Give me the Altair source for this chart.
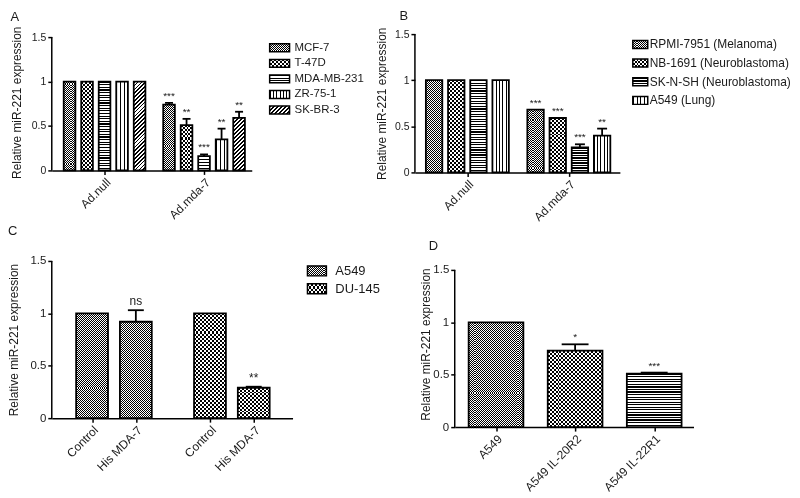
import json
import altair as alt
import pandas as pd

FONT = "Liberation Sans"
INK = "#1a1a1a"

# ---------------- data ----------------
A_groups = ["Ad.null", "Ad.mda-7"]
A_series = ["MCF-7", "T-47D", "MDA-MB-231", "ZR-75-1", "SK-BR-3"]
A_null = [1.0, 1.0, 1.0, 1.0, 1.0]
A_mda = [0.74, 0.51, 0.16, 0.35, 0.59]
A_mda_err = [0.02, 0.07, 0.02, 0.12, 0.07]
A_stars = ["***", "**", "***", "**", "**"]

B_groups = ["Ad.null", "Ad.mda-7"]
B_series = ["RPMI-7951 (Melanoma)", "NB-1691 (Neuroblastoma)",
            "SK-N-SH (Neuroblastoma)", "A549 (Lung)"]
B_null = [1.0, 1.0, 1.0, 1.0]
B_mda = [0.68, 0.59, 0.27, 0.40]
B_mda_err = [0.0, 0.0, 0.035, 0.075]
B_stars = ["***", "***", "***", "**"]

C_cells = ["A549", "DU-145"]
C_treat = ["Control", "His MDA-7"]
C_a549 = [1.0, 0.92]
C_a549_err = [0.0, 0.11]
C_a549_marks = ["", "ns"]
C_du145 = [1.0, 0.29]
C_du145_err = [0.0, 0.01]
C_du145_marks = ["", "**"]

D_cats = ["A549", "A549 IL-20R2", "A549 IL-22R1"]
D_vals = [1.0, 0.73, 0.51]
D_err = [0.0, 0.06, 0.01]
D_stars = ["", "*", "***"]

# fill patterns (style)
A_pat = ["fine", "checker", "hstripe", "vstripe", "diag"]
B_pat = ["fine", "checker", "hstripe", "vstripe"]
C_pat = ["fine", "checker"]
D_pat = ["fine", "checker", "hstripe"]


# ---------------- pattern helpers ----------------
def stripes(n, duty, x2, y2):
    n = max(1, int(round(n)))
    stops = []
    for i in range(n):
        a = round(i / n, 5)
        b = round((i + duty) / n, 5)
        c = round((i + 1) / n, 5)
        stops += [{"offset": a, "color": "black"}, {"offset": b, "color": "black"},
                  {"offset": b, "color": "white"}, {"offset": c, "color": "white"}]
    return {"gradient": "linear", "x1": 0, "y1": 0, "x2": x2, "y2": y2, "stops": stops}


def pattern(kind, w, h):
    h = max(h, 1.0)
    if kind == "fine":
        return stripes(h / 2.0, 0.5, 0, 1), stripes(w / 2.0, 0.5, 1, 0)
    if kind == "checker":
        return stripes(h / 4.0, 0.5, 0, 1), stripes(w / 4.0, 0.5, 1, 0)
    if kind == "hstripe":
        return stripes(h / 2.6, 0.45, 0, 1), "black"
    if kind == "vstripe":
        return stripes(w / 3.6, 0.3, 1, 0), "black"
    k = (w + h) / (w * w + h * h)
    return stripes((w + h) / (1.414 * 2.8), 0.45, w * k, h * k), "black"


def yaxis(label_size, title_pad):
    return alt.Axis(title="Relative miR-221 expression", values=[0, 0.5, 1, 1.5], format="~g",
                    labelFontSize=label_size, titleFontSize=12, titleFontWeight="normal",
                    titleFont=FONT, labelFont=FONT, titleColor=INK, labelColor=INK,
                    domain=False, tickColor="black", tickWidth=1.5,
                    tickSize=4, labelPadding=2, titlePadding=title_pad, grid=False)


def label_expr(values, labels):
    expr = "''"
    for v, lab in reversed(list(zip(values, labels))):
        expr = f"abs(datum.value - ({v})) < 0.001 ? {json.dumps(lab)} : ({expr})"
    return expr


def build_panel(df, kinds, layout, tick_vals, tick_labels, ylab, title_pad, title,
                mark_size=10):
    w, h_eff, y_top_px = layout["w"], layout["h"], layout["extra_top"]
    pitch, bar, first, group, cap = (layout["pitch"], layout["bar"], layout["first"],
                                     layout["group"], layout["cap"])
    G = group / pitch
    hw = bar / 2.0 / pitch
    chw = cap / 2.0 / pitch
    xdom = [-first / pitch, (w - first) / pitch]
    h_total = h_eff + y_top_px
    ymax = 1.5 * h_total / h_eff
    ppu = h_eff / 1.5

    cb, ct = [], []
    for (_, r), kd in zip(df.iterrows(), kinds):
        b, t = pattern(kd, bar, r["value"] * ppu)
        test = "datum.key === " + json.dumps(r["key"])
        cb.append({"test": test, "value": b})
        ct.append({"test": test, "value": t})

    xaxis = alt.Axis(title=None, values=tick_vals, labelExpr=label_expr(tick_vals, tick_labels),
                     labelAngle=315, labelFontSize=12, labelFont=FONT, labelColor=INK,
                     labelOverlap=False, labelFlush=False,
                     domainColor="black", domainWidth=1.5, tickColor="black", tickWidth=1.5,
                     tickSize=4, labelPadding=2, grid=False)
    xs = alt.Scale(domain=xdom, nice=False, zero=False)
    ys = alt.Scale(domain=[0, ymax], nice=False, zero=False)

    def X(f):
        return alt.X(f, scale=xs, axis=xaxis)

    def Y(f):
        return alt.Y(f, scale=ys, axis=yaxis(ylab, title_pad))

    base = alt.Chart(df).transform_calculate(
        pos=f"datum.gi * {G} + datum.si",
        lo=f"datum.gi * {G} + datum.si - {hw}",
        hi=f"datum.gi * {G} + datum.si + {hw}",
        clo=f"datum.gi * {G} + datum.si - {chw}",
        chi=f"datum.gi * {G} + datum.si + {chw}",
        top="datum.value + datum.err",
        zero="0",
    )
    layers = [
        base.mark_rect().encode(x=X("lo:Q"), x2="hi:Q", y=Y("value:Q"), y2="zero:Q",
                                fill={"condition": cb, "value": "white"}),
        base.mark_rect(blend="difference").encode(x=X("lo:Q"), x2="hi:Q", y=Y("value:Q"),
                                                  y2="zero:Q",
                                                  fill={"condition": ct, "value": "black"}),
        base.mark_rect(fillOpacity=0, stroke="black", strokeWidth=1.8).encode(
            x=X("lo:Q"), x2="hi:Q", y=Y("value:Q"), y2="zero:Q"),
    ]
    errs = base.transform_filter("datum.err > 0")
    layers.append(errs.mark_rule(color="black", strokeWidth=1.8).encode(
        x=X("pos:Q"), y=Y("value:Q"), y2="top:Q"))
    layers.append(errs.mark_rule(color="black", strokeWidth=1.8).encode(
        x=X("clo:Q"), x2="chi:Q", y=Y("top:Q")))
    layers.append(base.transform_filter("datum.mark != ''")
                  .mark_text(baseline="bottom", dy=-2, fontSize=mark_size, font=FONT, color=INK)
                  .encode(x=X("pos:Q"), y=Y("top:Q"), text="mark:N"))
    # y-axis line from 0 to 1.5
    layers.append(alt.Chart(pd.DataFrame({"a": [0]})).mark_rule(color="black", strokeWidth=1.5)
                  .encode(x=alt.value(0), y=alt.datum(0, scale=ys), y2=alt.datum(1.5)))
    return alt.layer(*layers).properties(width=w, height=h_total, title=title)


def legend(series, kinds, width, height, y_range, sw_w, sw_h, font_size, text_x):
    df = pd.DataFrame({"series": series})
    cb, ct = [], []
    for s, kd in zip(series, kinds):
        b, t = pattern(kd, sw_w, sw_h)
        test = "datum.series === " + json.dumps(s)
        cb.append({"test": test, "value": b})
        ct.append({"test": test, "value": t})
    y = alt.Y("series:N", axis=None,
              scale=alt.Scale(domain=series, range=y_range, paddingInner=0, paddingOuter=0))
    base = alt.Chart(df).encode(y=y)
    sw = dict(x=alt.value(0), x2=alt.value(sw_w))
    l1 = base.mark_bar(orient="horizontal", height=sw_h).encode(**sw, fill={"condition": cb, "value": "white"})
    l2 = base.mark_bar(orient="horizontal", height=sw_h, blend="difference").encode(
        **sw, fill={"condition": ct, "value": "black"})
    l3 = base.mark_bar(orient="horizontal", height=sw_h, fillOpacity=0, stroke="black",
                       strokeWidth=1.5).encode(**sw)
    txt = base.mark_text(align="left", baseline="middle", fontSize=font_size, font=FONT,
                         color=INK).encode(x=alt.value(text_x), text="series:N")
    return alt.layer(l1, l2, l3, txt).properties(width=width, height=height)


def grouped_df(groups, series, first_vals, second_vals, second_err, second_marks):
    rows = []
    for gi, g in enumerate(groups):
        for si, s in enumerate(series):
            if gi == 0:
                rows.append((gi, si, g, s, first_vals[si], 0.0, ""))
            else:
                rows.append((gi, si, g, s, second_vals[si], second_err[si], second_marks[si]))
    df = pd.DataFrame(rows, columns=["gi", "si", "group", "series", "value", "err", "mark"])
    df["key"] = df["group"] + "|" + df["series"]
    return df


def title(letter, offset, dx=0):
    return alt.TitleParams(letter, anchor="start", fontSize=13, fontWeight="normal", font=FONT,
                           color=INK, offset=offset, dx=dx)


# ---------------- panels ----------------
LA = dict(w=201, h=134, extra_top=3, pitch=17.6, bar=11.7, first=17.85, group=100, cap=8)
dfA = grouped_df(A_groups, A_series, A_null, A_mda, A_mda_err, A_stars)
GA = LA["group"] / LA["pitch"]
mA = (len(A_series) - 1) / 2.0
panelA = build_panel(dfA, A_pat * 2, LA, [mA, GA + mA], A_groups, 10.5, 8, title("A", 2))
legA = legend(A_series, A_pat, 95, 86, [6, 84], 20, 8, 11.5, 25)

LB = dict(w=206, h=139, extra_top=0, pitch=22.3, bar=16.5, first=19.25, group=102, cap=10)
dfB = grouped_df(B_groups, B_series, B_null, B_mda, B_mda_err, B_stars)
GB = LB["group"] / LB["pitch"]
mB = (len(B_series) - 1) / 2.0
panelB = build_panel(dfB, B_pat * 2, LB, [mB, GB + mB], B_groups, 10.5, 6, title("B", 4, 24))
legB = legend(B_series, B_pat, 150, 77, [1, 76], 15, 8, 12, 17)

LC = dict(w=242, h=158, extra_top=0, pitch=44, bar=32, first=40.5, group=118.5, cap=16)
rowsC = []
for ci, cell in enumerate(C_cells):
    vals = C_a549 if ci == 0 else C_du145
    errs = C_a549_err if ci == 0 else C_du145_err
    marks = C_a549_marks if ci == 0 else C_du145_marks
    for ti, t in enumerate(C_treat):
        rowsC.append((ci, ti, cell, t, vals[ti], errs[ti], marks[ti]))
dfC = pd.DataFrame(rowsC, columns=["gi", "si", "group", "series", "value", "err", "mark"])
dfC["key"] = dfC["group"] + "|" + dfC["series"]
kindsC = [C_pat[g] for g in dfC["gi"]]
GC = LC["group"] / LC["pitch"]
tvC = [gi * GC + si for gi in range(len(C_cells)) for si in range(len(C_treat))]
tlC = [t for _ in C_cells for t in C_treat]
panelC = build_panel(dfC, kindsC, LC, tvC, tlC, 11.5, 9, title("C", 17), mark_size=12)
legC = legend(C_cells, C_pat, 73, 40, [1, 37], 19, 10, 13, 28)

LD = dict(w=240, h=158, extra_top=9, pitch=79.5, bar=55, first=41.5, group=79.5, cap=27)
dfD = pd.DataFrame({"gi": list(range(len(D_cats))), "si": [0] * len(D_cats),
                    "group": D_cats, "series": D_cats, "value": D_vals, "err": D_err,
                    "mark": D_stars})
dfD["key"] = dfD["group"]
panelD = build_panel(dfD, D_pat, LD, [float(i) for i in range(len(D_cats))], D_cats, 11.5, 0,
                     title("D", 8, 9))

top = alt.hconcat(alt.hconcat(panelA, legA, spacing=17),
                  alt.hconcat(panelB, legB, spacing=12), spacing=11)
bottom = alt.hconcat(alt.hconcat(panelC, legC, spacing=14), panelD, spacing=40)

chart = (alt.vconcat(top, bottom, spacing=2)
         .properties(padding=0)
         .configure_view(strokeWidth=0))

chart.save("out.html", embed_options={"renderer": "svg", "actions": False})
